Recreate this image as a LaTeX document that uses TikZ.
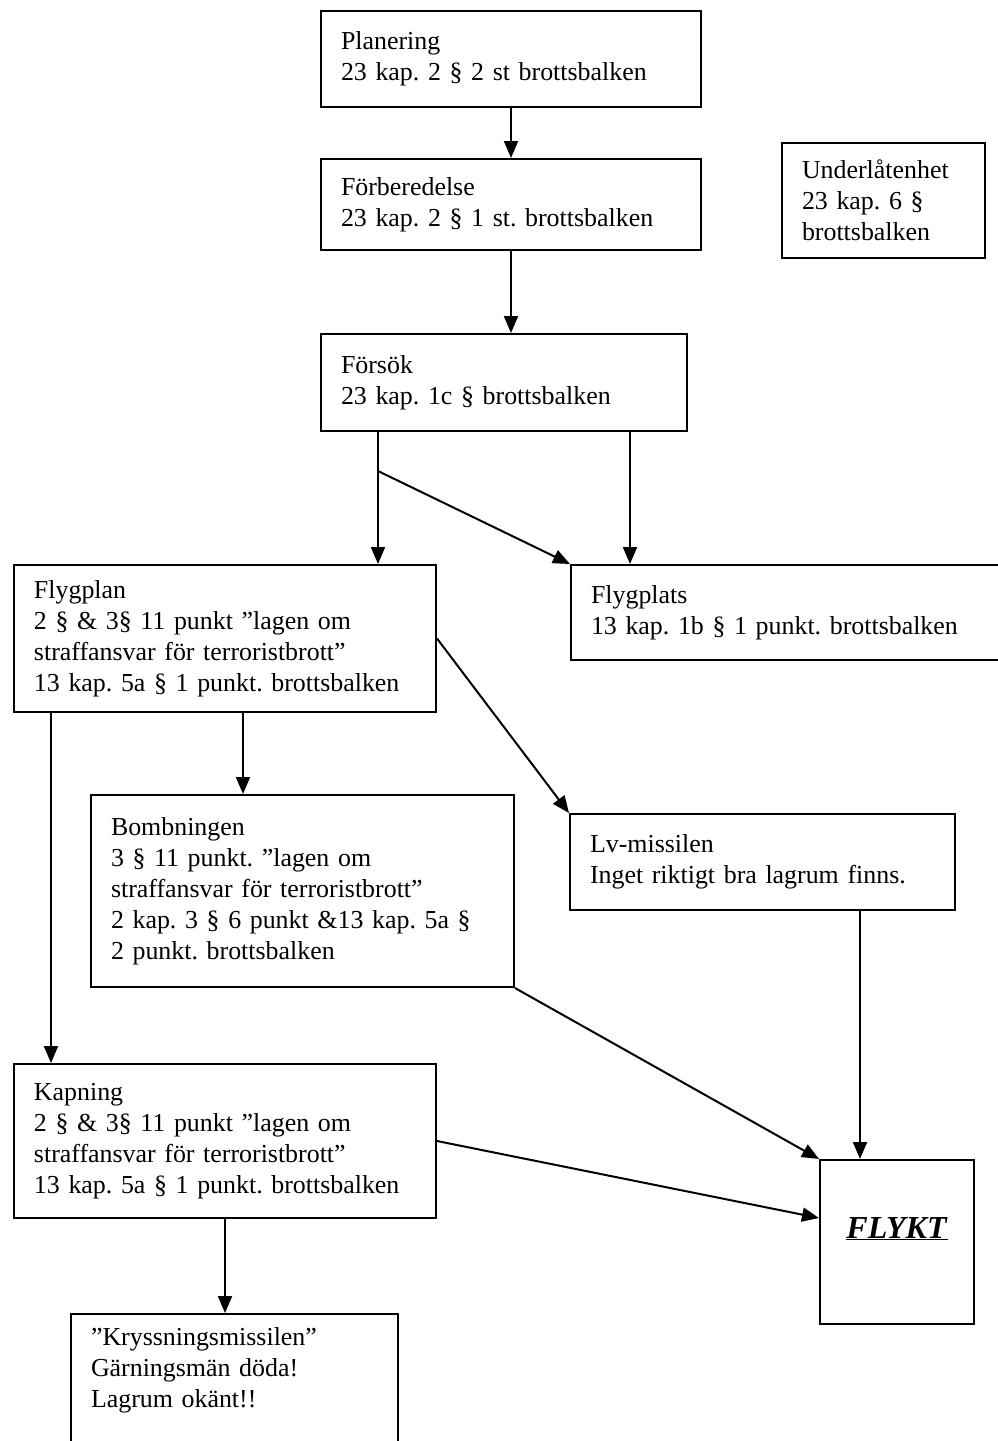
\documentclass[tikz,border=0pt]{standalone}
\usepackage{fontspec}
\setmainfont{Liberation Serif}
\usetikzlibrary{arrows.meta}
\frenchspacing
\newcommand{\lawsize}{\fontsize{25.9}{31}\selectfont\hyphenpenalty=10000\relax}
\tikzset{
  lawbox/.style={draw, line width=2pt, anchor=north west, align=left,
    inner xsep=20pt, inner ysep=0pt, font=\lawsize},
  link/.style={line width=2pt, ->}
}

\begin{document}
\begin{tikzpicture}[x=1pt,y=-1pt,>={Triangle[length=17pt,width=14pt]}]
\clip (0,0) rectangle (998,1441);
\node[lawbox, text width=340pt, minimum height=96pt] (plan) at (320,10) {Planering\\23 kap. 2 § 2 st brottsbalken};
\node[lawbox, text width=340pt, minimum height=91pt] (forb) at (320,158) {Förberedelse\\23 kap. 2 § 1 st. brottsbalken};
\node[lawbox, text width=326pt, minimum height=97pt] (forsok) at (320,333) {Försök\\23 kap. 1c § brottsbalken};
\node[lawbox, text width=163pt, minimum height=115pt] (under) at (781,142) {Underlåtenhet\\23 kap. 6 §\\brottsbalken};
\node[lawbox, text width=382pt, minimum height=147pt] (flygplan) at (13,564) {Flygplan\\2 § \& 3§ 11 punkt ”lagen om\\straffansvar för terroristbrott”\\13 kap. 5a § 1 punkt. brottsbalken};
\node[lawbox, text width=400pt, minimum height=95pt] (flygplats) at (570,564) {Flygplats\\13 kap. 1b § 1 punkt. brottsbalken};
\node[lawbox, text width=383pt, minimum height=192pt] (bomb) at (90,794) {Bombningen\\3 § 11 punkt. ”lagen om\\straffansvar för terroristbrott”\\2 kap. 3 § 6 punkt \&13 kap. 5a §\\2 punkt. brottsbalken};
\node[lawbox, text width=345pt, minimum height=96pt] (lv) at (569,813) {Lv-missilen\\Inget riktigt bra lagrum finns.};
\node[lawbox, text width=382pt, minimum height=154pt] (kapning) at (13,1063) {Kapning\\2 § \& 3§ 11 punkt ”lagen om\\straffansvar för terroristbrott”\\13 kap. 5a § 1 punkt. brottsbalken};
\node[draw, line width=2pt, anchor=north west, minimum width=154pt, minimum height=164pt,
  text height=22pt, text depth=30pt, font=\fontsize{32}{36}\selectfont] (flykt) at (819,1159) {\underline{\textbf{\textit{FLYKT}}}};
\node[lawbox, inner ysep=14pt, text width=287pt] (kryss) at (70,1313) {”Kryssningsmissilen”\\Gärningsmän döda!\\Lagrum okänt!!\\\mbox{}\\\mbox{}\\\mbox{}};

\coordinate (split) at ([xshift=58pt]forsok.south west);
\coordinate (fork) at ([yshift=-39pt]split);
\coordinate (splitr) at ([xshift=-58pt]forsok.south east);
\coordinate (fpl) at ([xshift=38pt]flygplan.south west);
\coordinate (fpm) at ([xshift=230pt]flygplan.south west);
\coordinate (lvdown) at ([xshift=-96pt]lv.south east);

\draw[link] (plan) -- (forb);
\draw[link] (forb.south) -- (forb.south |- forsok.north);
\draw[link] (split) -- (split |- flygplan.north);
\draw[link] (fork) -- (flygplats.north west);
\draw[link] (splitr) -- (splitr |- flygplats.north);
\draw[link] (fpl) -- (fpl |- kapning.north);
\draw[link] (fpm) -- (fpm |- bomb.north);
\draw[link] (flygplan.east) -- (lv.north west);
\draw[link] (bomb.south east) -- (flykt.north west);
\draw[link] (lvdown) -- (lvdown |- flykt.north);
\draw[link] (kapning.east) -- ([yshift=24pt]flykt.west);
\draw[link] (kapning.south) -- (kapning.south |- kryss.north);
\end{tikzpicture}
\end{document}
